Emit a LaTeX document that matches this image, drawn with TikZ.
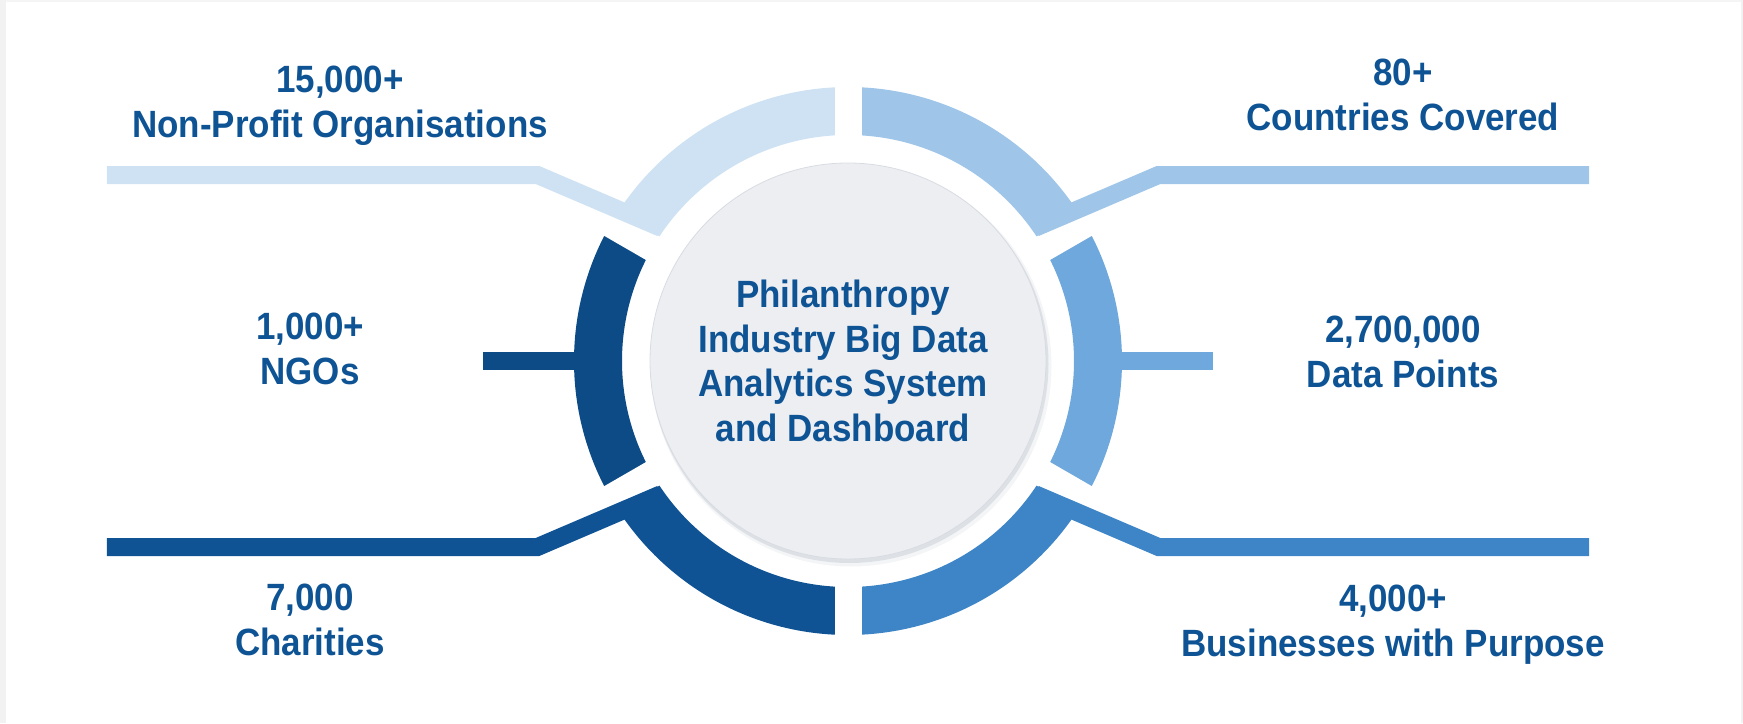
\documentclass[tikz,border=0pt]{standalone}
\usepackage{fontspec}
\newfontfamily\infofont{Liberation Sans}
\usetikzlibrary{positioning}
\definecolor{segA}{HTML}{CFE2F3}
\definecolor{segB}{HTML}{9FC5E8}
\definecolor{segC}{HTML}{0C4B86}
\definecolor{segD}{HTML}{6FA8DC}
\definecolor{segE}{HTML}{0F5394}
\definecolor{segF}{HTML}{3D85C6}
\definecolor{txtblue}{HTML}{0E5394}
\definecolor{hubfill}{HTML}{ECEEF2}
\definecolor{hubline}{HTML}{D8DCE2}
\definecolor{hubshade}{HTML}{8E9BAA}
\tikzset{
  lead/.style={line width=9pt,line join=miter},
  gap/.style={line width=13.5pt,white},
  txt/.style={font=\infofont\bfseries\fontsize{19}{22.4}\selectfont,text=txtblue,
    align=center,inner sep=0pt,anchor=base,xscale=0.92},
}

\begin{document}
\begin{tikzpicture}[x=0.5pt,y=0.5pt]
\useasboundingbox (-848,-362) rectangle (895,361);
% card edge
\fill[gray!10] (-848,-362) rectangle (-842,361);
\fill[gray!8] (-842,359) rectangle (895,361);
\fill[gray!10] (892.5,-362) rectangle (894.5,361);
%
% ring, six parts
\foreach \a/\c in {30/segB,90/segA,150/segC,210/segE,270/segF,330/segD}
  \draw[line width=24pt,\c] (\a:250) arc[start angle=\a,end angle=\a+60,radius=250];
\foreach \a in {30,90,...,330}
  \draw[gap] (\a:200) -- (\a:290);
%
% leaders
\coordinate (tlend) at (-741,186);
\coordinate (tlbend) at (-310.5,186);
\coordinate (tlring) at (-187.2,133.3);
\coordinate (trend) at (741,186);
\coordinate (trbend) at (310.5,186);
\coordinate (trring) at (187.2,133.3);
\coordinate (blend) at (-741,-186);
\coordinate (blbend) at (-310.5,-186);
\coordinate (blring) at (-187.2,-133.3);
\coordinate (brend) at (741,-186);
\coordinate (brbend) at (310.5,-186);
\coordinate (brring) at (187.2,-133.3);
\coordinate (mlend) at (-365,0);
\coordinate (mlring) at (-250,0);
\coordinate (mrend) at (365,0);
\coordinate (mrring) at (250,0);
\draw[lead,segA] (tlend) -- (tlbend) -- (tlring);
\draw[lead,segB] (trend) -- (trbend) -- (trring);
\draw[lead,segE] (blend) -- (blbend) -- (blring);
\draw[lead,segF] (brend) -- (brbend) -- (brring);
\draw[lead,segC] (mlend) -- (mlring);
\draw[lead,segD] (mrend) -- (mrring);
%
% hub
\fill[hubshade,opacity=0.10] (3,-5) circle (200.5);
\fill[hubshade,opacity=0.22] (1.5,-3) circle (199);
\node (hub) [circle,fill=hubfill,draw=hubline,line width=0.4pt,minimum size=198pt,inner sep=0pt] at (0,0) {};
\node[txt] (title) at (-5,-80.7) {Philanthropy\\Industry Big Data\\Analytics System\\and Dashboard};
%
% figures (anchored on the last line)
\node[txt] (npo) at (-508,223.3) {15,000+\\Non-Profit Organisations};
\node[txt] (cty) at (555,231) {80+\\Countries Covered};
\node[txt] (ngo) at (-538,-23) {1,000+\\NGOs};
\node[txt] (pts) at (555,-26) {2,700,000\\Data Points};
\node[txt] (chr) at (-538,-294.3) {7,000\\Charities};
\node[txt] (bwp) at (545,-295) {4,000+\\Businesses with Purpose};
\end{tikzpicture}
\end{document}
